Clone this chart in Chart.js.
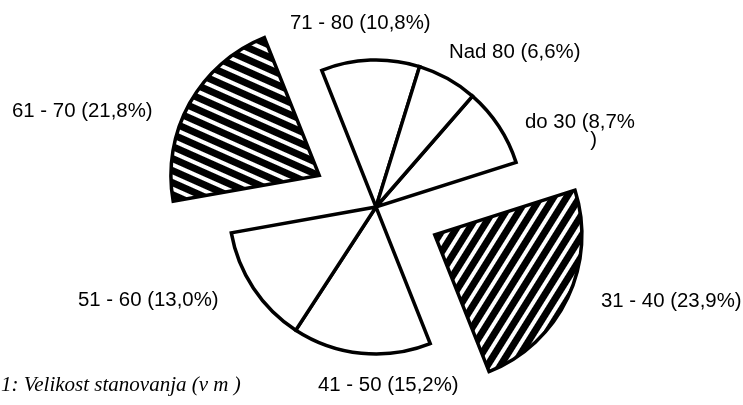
<!DOCTYPE html>
<html>
<head>
<meta charset="utf-8">
<script src="https://cdn.jsdelivr.net/npm/chart.js@4"></script>
<style>
  html, body { margin: 0; padding: 0; background: #fff; }
  #wrap { width: 743px; height: 405px; }
</style>
</head>
<body>
<div id="wrap"><canvas id="pieChart" width="743" height="405"></canvas></div>
<script>
    // sizes of flats, clockwise starting with "do 30"
    const categories = ['do 30', '31 - 40', '41 - 50', '51 - 60', '61 - 70', '71 - 80', 'Nad 80'];
    const shares = [8.7, 23.9, 15.2, 13.0, 21.8, 10.8, 6.6];
    const hatched = ['31 - 40', '61 - 70'];
    const caption = '1: Velikost stanovanja (v m )';

    // where each label text sits (left x, baseline y)
    const labelSpots = [
        [525, 128], [601, 307], [318, 391], [78, 306], [12, 117], [290, 29], [449, 58]
    ];

    const canvas = document.getElementById('pieChart');
    const ctx = canvas.getContext('2d');

    function stripes(angle) {
        const c = document.createElement('canvas');
        c.width = 11; c.height = 11;
        const g = c.getContext('2d');
        g.fillStyle = '#000';
        g.fillRect(0, 0, 11, 11);
        g.fillStyle = '#fff';
        g.fillRect(0, 7, 11, 4);
        const p = ctx.createPattern(c, 'repeat');
        p.setTransform(new DOMMatrix().rotate(angle));
        return p;
    }

    const fills = categories.map(c => {
        if (c === '31 - 40') return stripes(-58);
        if (c === '61 - 70') return stripes(24);
        return '#fff';
    });
    const offsets = categories.map(c => hatched.includes(c) ? 260 : 0);

    const fmt = v => v.toFixed(1).replace('.', ',');

    const labelPlugin = {
        id: 'sliceLabels',
        afterDraw(chart) {
            const c = chart.ctx;
            c.save();
            c.fillStyle = '#000';
            c.textBaseline = 'alphabetic';
            c.font = '20px "Liberation Sans", Arial, sans-serif';
            categories.forEach((cat, i) => {
                const [x, y] = labelSpots[i];
                let text = cat + ' (' + fmt(shares[i]) + '%)';
                c.save();
                c.translate(x, y);
                c.scale(1.02, 1);
                if (cat === 'do 30') {
                    // closing bracket wrapped to the next line, as in the print
                    c.fillText(text.slice(0, -1), 0, 0);
                    c.fillText(')', 64, 18);
                } else {
                    c.fillText(text, 0, 0);
                }
                c.restore();
            });
            c.font = 'italic 21px "Liberation Serif", "Times New Roman", serif';
            c.fillText(caption, 1, 391);
            c.restore();
        }
    };

    new Chart(ctx, {
        type: 'pie',
        data: {
            labels: categories,
            datasets: [{
                data: shares,
                backgroundColor: fills,
                borderColor: '#000',
                borderWidth: 3.5,
                borderJoinStyle: 'miter',
                offset: offsets,
                hoverOffset: 0,
                radius: 147,
                rotation: 41
            }]
        },
        options: {
            responsive: false,
            animation: false,
            events: [],
            rotation: 41,
            radius: 147,
            layout: { padding: { left: 9, right: 0, top: 9, bottom: 0 } },
            plugins: {
                legend: { display: false },
                tooltip: { enabled: false }
            }
        },
        plugins: [labelPlugin]
    });
</script>
</body>
</html>
